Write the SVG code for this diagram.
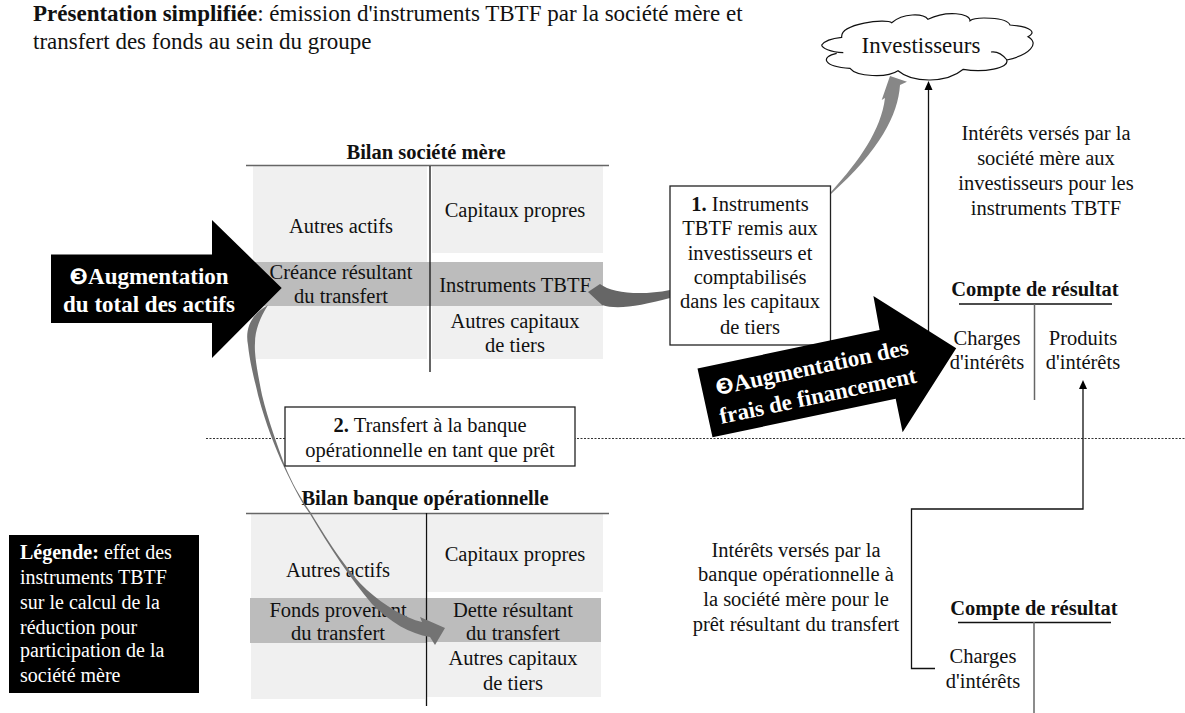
<svg xmlns="http://www.w3.org/2000/svg" width="1185" height="713" viewBox="0 0 1185 713">
<style>
text{font-family:"Liberation Serif","Times New Roman",serif;font-size:20.500px;fill:#111;text-anchor:middle}
.b{font-weight:bold}
.l{text-anchor:start;font-size:23px}
.w{fill:#fff;font-weight:bold;font-size:23px}
.n{font-family:"DejaVu Sans",sans-serif;font-size:22px}
.lg{fill:#fff;text-anchor:start;font-size:20px}
.g1{fill:#f0f0f0}.g2{fill:#bcbcbc}
.ln{stroke:#111;stroke-width:1.3;fill:none}
.gl{stroke:#666;stroke-width:1.500;fill:none}
.box{fill:#fff;stroke:#222;stroke-width:1.300}
</style>
<g id="heading"><text class="l" x="33" y="21"><tspan class="b">Présentation simplifiée</tspan>: émission d'instruments TBTF par la société mère et</text><text class="l" x="33" y="49">transfert des fonds au sein du groupe</text></g>
<g id="bilan-mere">
<rect class="g1" x="253" y="166" width="174" height="193"/><rect class="g1" x="432" y="166" width="171" height="87"/><rect class="g1" x="432" y="305" width="171" height="54"/>
<rect class="g2" x="253" y="262" width="174" height="44"/><rect class="g2" x="427" y="262" width="176" height="44"/>
<path class="gl" d="M246 165.500H609"/><path class="ln" d="M430 166V372"/>
<text class="b" x="426" y="159">Bilan société mère</text>
<text x="341" y="233">Autres actifs</text><text x="341" y="279">Créance résultant</text><text x="341" y="303">du transfert</text>
<text x="515" y="217">Capitaux propres</text><text x="515" y="292">Instruments TBTF</text><text x="515" y="328">Autres capitaux</text><text x="515" y="352">de tiers</text>
</g>
<g id="bilan-banque">
<rect class="g1" x="251" y="514" width="174" height="185"/><rect class="g1" x="427" y="514" width="176" height="78"/><rect class="g1" x="427" y="642" width="174" height="55"/>
<rect class="g2" x="250" y="598" width="176" height="45"/><rect class="g2" x="427" y="598" width="174" height="44"/>
<path class="gl" d="M246 513.500H609"/><path class="ln" d="M426.500 513V706"/>
<text class="b" x="425" y="505">Bilan banque opérationnelle</text>
<text x="338" y="577">Autres actifs</text><text x="338" y="617">Fonds provenant</text><text x="338" y="640">du transfert</text>
<text x="515" y="561">Capitaux propres</text><text x="513" y="617">Dette résultant</text><text x="513" y="640">du transfert</text><text x="513" y="665">Autres capitaux</text><text x="513" y="690">de tiers</text>
</g>
<g id="connectors">
<path d="M206 438.500H1185" stroke="#333" stroke-width="1" stroke-dasharray="2 1.500" fill="none"/>
<path class="ln" d="M928.500 335V88"/><path d="M924.500 90L928.500 81L932.500 90Z"/>
<path class="ln" d="M935 668.500H911.500V509H1083V388"/><path d="M1079 389L1083 380L1087 389Z"/>
<path fill="#878787" d="M831 192C860 160 881 130 885 98L881.700 100L890 76L907 81.700L900 85C898 115 880 150 831 194Z"/>
<path fill="#666" d="M588 292L600 284C612 293 640 296 670 290V298C640 306 617 310 602 305Z"/>
<path fill="#737373" d="M268 305C250 315 245 330 248 345C250 365 256 385 258 395C266 425 275 447 284 467C294 488 302 503 310 514C330 548 350 578 372 604C390 622 410 634 430 637L435 645L445 628L420 617L422 622C405 618 385 606 367 590C350 574 330 545 311 513C300 497 293 485 285 466C278 447 268 420 262 395C258 375 254 355 255 343C255 330 260 318 268 305Z"/>
</g>
<g id="note-1"><rect class="box" x="670" y="186" width="160.500" height="159"/>
<text x="750" y="211"><tspan class="b">1.</tspan> Instruments</text><text x="750" y="235">TBTF remis aux</text><text x="750" y="260">investisseurs et</text><text x="750" y="284">comptabilisés</text><text x="750" y="308">dans les capitaux</text><text x="750" y="334">de tiers</text></g>
<g id="note-2"><rect class="box" x="285" y="407" width="290" height="59"/>
<text x="430" y="432"><tspan class="b">2.</tspan> Transfert à la banque</text><text x="430" y="457">opérationnelle en tant que prêt</text></g>
<g id="investisseurs"><path fill="#fff" stroke="#111" stroke-width="1.200" d="M843.300 52.700C830 52 822 48 821.700 45C825 40 835 38 841.700 37.300C840 23.300 886.700 18.300 891.700 22.700C903 13 923 13 928 19.300C946.700 10 970 13.300 970 20.700C975 16.700 1006.700 16.700 1010 25C1033 26.700 1036 33 1028 36.700C1040 43.300 1030 55 1006.700 60C1010 68.300 983 73 963.300 69.300C946.700 83.300 913 83.300 898 70.700C886.700 78.300 856.700 76.700 850 68.300C823 66.700 820 56.700 836.700 53.300"/><path fill="none" stroke="#111" stroke-width="1.200" d="M991 52C998 51 1003 55 1007 60"/><text x="921" y="53" style="font-size:23px">Investisseurs</text></g>
<g id="fleche-actifs"><path fill="#000" d="M51 254.500H212V220L281.700 288L212 358V323H51Z"/><text class="w" x="149" y="284"><tspan class="n">❸</tspan>Augmentation</text><text class="w" x="149" y="312">du total des actifs</text></g>
<g id="fleche-frais"><path fill="#000" d="M697.500 368.500L879.600 330L873.400 296L956.200 348.300L902.600 432.300L895.700 398.700L712.500 437.300Z"/>
<g transform="translate(812 369) rotate(-12)"><text class="w" x="0" y="6"><tspan class="n">❸</tspan>Augmentation des</text><text class="w" x="0" y="35">frais de financement</text></g></g>
<g id="legende"><rect x="9" y="535" width="190" height="158" fill="#000"/>
<text class="lg" x="20" y="559"><tspan class="b">Légende:</tspan> effet des</text><text class="lg" x="20" y="584">instruments TBTF</text><text class="lg" x="20" y="609">sur le calcul de la</text><text class="lg" x="20" y="634">réduction pour</text><text class="lg" x="20" y="657">participation de la</text><text class="lg" x="20" y="682">société mère</text></g>
<g id="cr-mere"><text class="b" x="1035" y="296">Compte de résultat</text><path class="ln" d="M959 304H1112"/><path class="gl" d="M1034.500 304V400"/>
<text x="987" y="345">Charges</text><text x="987" y="369">d'intérêts</text><text x="1083" y="345">Produits</text><text x="1083" y="369">d'intérêts</text></g>
<g id="cr-banque"><text class="b" x="1034" y="615">Compte de résultat</text><path class="ln" d="M958 622.500H1111"/><path class="gl" d="M1034 622V713"/>
<text x="983" y="663">Charges</text><text x="983" y="688">d'intérêts</text></g>
<g id="txt-int1"><text x="1046" y="140">Intérêts versés par la</text><text x="1046" y="165">société mère aux</text><text x="1046" y="190">investisseurs pour les</text><text x="1046" y="215">instruments TBTF</text></g>
<g id="txt-int2"><text x="796" y="557">Intérêts versés par la</text><text x="796" y="581">banque opérationnelle à</text><text x="796" y="606">la société mère pour le</text><text x="796" y="631">prêt résultant du transfert</text></g>
</svg>
